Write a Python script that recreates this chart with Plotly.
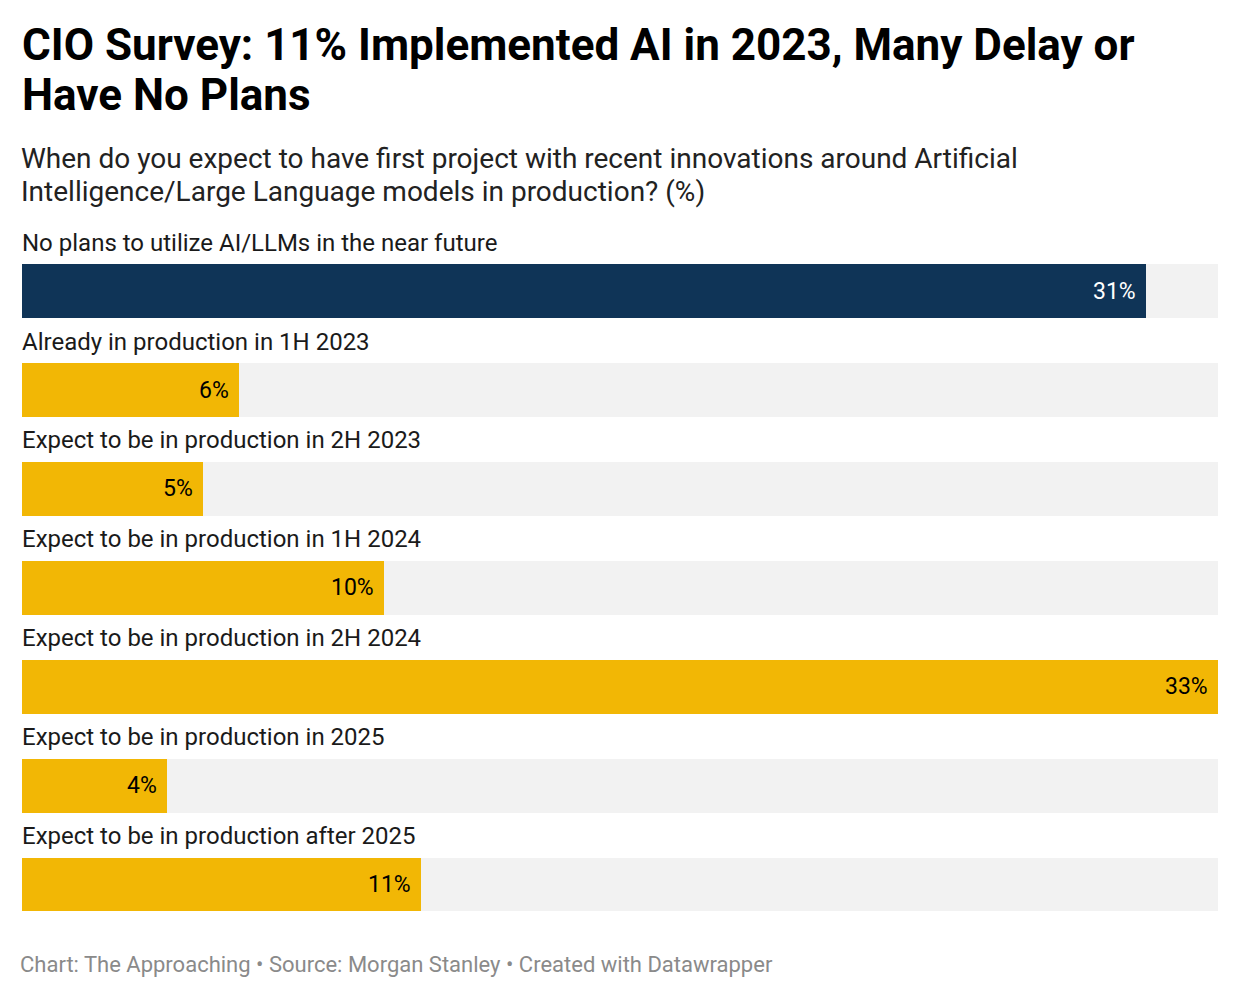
import plotly.graph_objects as go

categories = [
    "No plans to utilize AI/LLMs in the near future",
    "Already in production in 1H 2023",
    "Expect to be in production in 2H 2023",
    "Expect to be in production in 1H 2024",
    "Expect to be in production in 2H 2024",
    "Expect to be in production in 2025",
    "Expect to be in production after 2025",
]
values = [31, 6, 5, 10, 33, 4, 11]
bar_colors = ["#0f3457", "#f2b705", "#f2b705", "#f2b705", "#f2b705", "#f2b705", "#f2b705"]
text_colors = ["#ffffff", "#000000", "#000000", "#000000", "#000000", "#000000", "#000000"]
max_val = 33

title_lines = ["CIO Survey: 11% Implemented AI in 2023, Many Delay or", "Have No Plans"]
subtitle_lines = [
    "When do you expect to have first project with recent innovations around Artificial",
    "Intelligence/Large Language models in production? (%)",
]
footer = "Chart: The Approaching \u2022 Source: Morgan Stanley \u2022 Created with Datawrapper"

rows = list(range(len(categories)))

OFF = 8  # page body offset
W, H = 1240 - OFF, 998 - OFF
top_px, bot_px = 212 - OFF, 924.5 - OFF

fig = go.Figure()
fig.add_trace(go.Bar(
    x=[max_val] * len(rows), y=rows, orientation="h",
    marker=dict(color="#f2f2f2", line=dict(width=0)), width=0.545,
    hoverinfo="skip", showlegend=False,
))
fig.add_trace(go.Bar(
    x=values, y=rows, orientation="h",
    marker=dict(color=bar_colors, line=dict(width=0)), width=0.545,
    showlegend=False,
))
fig.update_layout(barmode="overlay")

font = "Roboto"
for i, (cat, v, tc) in enumerate(zip(categories, values, text_colors)):
    fig.add_annotation(x=0, y=i - 0.5, xref="x", yref="y", text=cat, showarrow=False,
                       xanchor="left", yanchor="middle", xshift=-2, yshift=-1,
                       font=dict(family=font, size=24, color="#1a1a1a"))
    fig.add_annotation(x=v, y=i, xref="x", yref="y", text=f"{v}%", showarrow=False,
                       xanchor="right", yanchor="middle", xshift=-8,
                       font=dict(family=font, size=23, color=tc))

def py(p):
    p = p - OFF
    return (bot_px - p) / (bot_px - top_px)

for txt, yp in zip(title_lines, [45, 95]):
    fig.add_annotation(x=-0.0015, y=py(yp), xref="paper", yref="paper", xanchor="left", yanchor="middle",
                       text=f"<b>{txt}</b>", showarrow=False, align="left",
                       font=dict(family=font, size=44, color="#000000"))
for txt, yp in zip(subtitle_lines, [158, 191]):
    fig.add_annotation(x=-0.0025, y=py(yp), xref="paper", yref="paper", xanchor="left", yanchor="middle",
                       text=txt, showarrow=False, align="left",
                       font=dict(family=font, size=28, color="#222222"))
fig.add_annotation(x=-0.003, y=py(965), xref="paper", yref="paper", xanchor="left", yanchor="middle",
                   text=footer, showarrow=False, align="left",
                   font=dict(family=font, size=22, color="#8a8a8a"))

fig.update_xaxes(range=[0, max_val], visible=False, fixedrange=True)
fig.update_yaxes(range=[6.4, -0.8], visible=False, fixedrange=True)
fig.update_layout(
    width=W, height=H,
    margin=dict(l=22 - OFF, r=1240 - 1218, t=top_px, b=H - bot_px, pad=0),
    paper_bgcolor="#ffffff", plot_bgcolor="#ffffff",
    bargap=0,
)
fig.write_html("out.html")
